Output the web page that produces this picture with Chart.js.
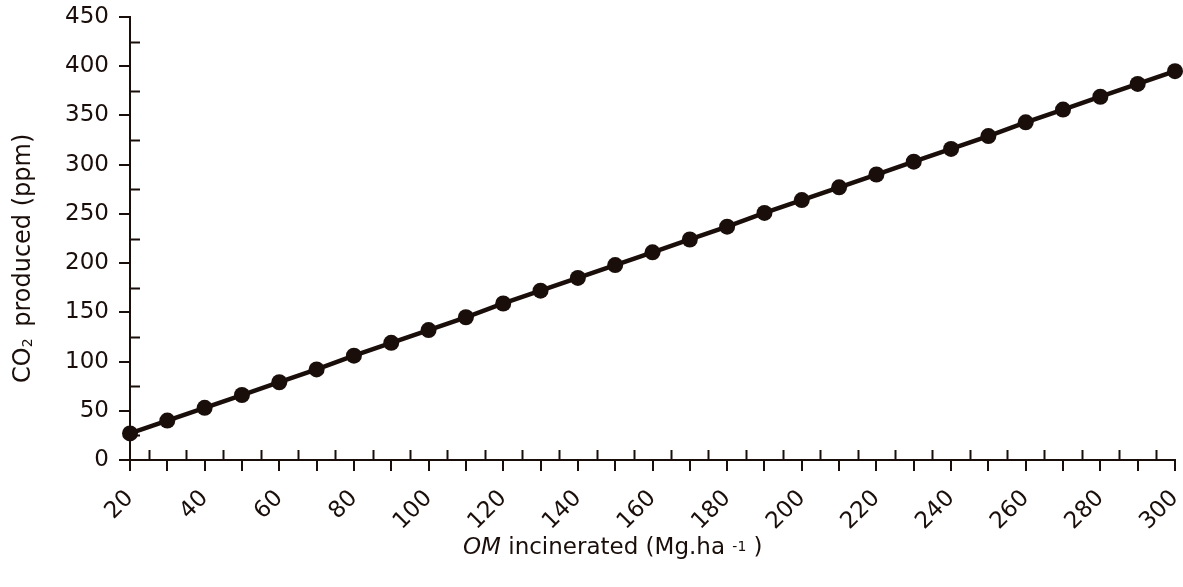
<!DOCTYPE html>
<html>
<head>
<meta charset="utf-8">
<script src="https://cdn.jsdelivr.net/npm/chart.js@4"></script>
<style>
    html, body { margin: 0; padding: 0; background: #fff; }
    #wrap { position: relative; width: 1183px; height: 587px; }
</style>
</head>
<body>
<div id="wrap"><canvas id="co2-chart"></canvas></div>
<script>
const omIncinerated = [20, 30, 40, 50, 60, 70, 80, 90, 100, 110, 120, 130, 140, 150, 160, 170, 180, 190, 200, 210, 220, 230, 240, 250, 260, 270, 280, 290, 300];
const co2Produced = [27, 40, 53, 66, 79, 92, 106, 119, 132, 145, 159, 172, 185, 198, 211, 224, 237, 251, 264, 277, 290, 303, 316, 329, 343, 356, 369, 382, 395];
const yTicks = [0, 50, 100, 150, 200, 250, 300, 350, 400, 450];
const yMinorTicks = [25, 75, 125, 175, 225, 275, 325, 375, 425];
const xMinorTicks = [25, 35, 45, 55, 65, 75, 85, 95, 105, 115, 125, 135, 145, 155, 165, 175, 185, 195, 205, 215, 225, 235, 245, 255, 265, 275, 285, 295];

const ink = '#1a0e0a';
const fontFamily = '"DejaVu Sans", Verdana, sans-serif';

// inward minor ticks + axis titles with italic / sub / superscript parts
const extras = {
    id: 'extras',
    afterDraw: (chart) => {
        const { ctx, chartArea } = chart
        const x = chart.scales.x
        const y = chart.scales.y
        ctx.save()
        ctx.strokeStyle = ink
        ctx.lineWidth = 2
        ctx.beginPath()
        yMinorTicks.forEach(v => {
            const py = Math.round(y.getPixelForValue(v)) + 0.5
            ctx.moveTo(chartArea.left, py)
            ctx.lineTo(chartArea.left + 10, py)
        })
        xMinorTicks.forEach(v => {
            const px = Math.round(x.getPixelForValue(v)) + 0.5
            ctx.moveTo(px, chartArea.bottom)
            ctx.lineTo(px, chartArea.bottom - 10)
        })
        ctx.stroke()

        ctx.fillStyle = ink
        ctx.textBaseline = 'alphabetic'
        ctx.textAlign = 'left'

        // x title
        let tx = 463
        const ty = 554
        const parts = [
            ['italic 23px ' + fontFamily, 'OM', 0],
            ['23px ' + fontFamily, ' incinerated (Mg.ha ', 0],
            ['14px ' + fontFamily, '-1', -3],
            ['23px ' + fontFamily, ' )', 0]
        ]
        parts.forEach(([f, t, dy]) => {
            ctx.font = f
            ctx.fillText(t, tx, ty + dy)
            tx += ctx.measureText(t).width
        })

        // y title
        ctx.translate(30, 383)
        ctx.rotate(-Math.PI / 2)
        let ry = 0
        const yparts = [
            ['24px ' + fontFamily, 'CO', 0],
            ['14px ' + fontFamily, '2', 2],
            ['24px ' + fontFamily, ' produced (ppm)', 0]
        ]
        yparts.forEach(([f, t, dy]) => {
            ctx.font = f
            ctx.fillText(t, ry, dy)
            ry += ctx.measureText(t).width + (t === '2' ? 4 : 0)
        })
        ctx.restore()
    }
}

new Chart(document.getElementById('co2-chart'), {
    type: 'line',
    data: {
        datasets: [
            {
                data: omIncinerated.map((v, i) => ({ x: v, y: co2Produced[i] })),
                borderColor: ink,
                backgroundColor: ink,
                borderWidth: 4.5,
                pointRadius: 8,
                pointBackgroundColor: ink,
                pointBorderWidth: 0,
                tension: 0,
                clip: false
            }
        ]
    },
    options: {
        responsive: true,
        maintainAspectRatio: false,
        animation: false,
        layout: { padding: { top: 17, right: 6, left: 0, bottom: 0 } },
        plugins: {
            legend: { display: false },
            tooltip: { enabled: false }
        },
        scales: {
            x: {
                type: 'linear',
                min: 20,
                max: 300,
                afterFit: (scale) => {
                    scale.height = 127
                    scale.paddingLeft = 0
                    scale.paddingRight = 0
                },
                border: { color: ink, width: 2 },
                grid: { drawOnChartArea: false, drawTicks: true, tickLength: 11, color: ink, lineWidth: 2 },
                ticks: {
                    stepSize: 10,
                    autoSkip: false,
                    maxRotation: 45,
                    minRotation: 45,
                    padding: 14,
                    color: ink,
                    font: { family: fontFamily, size: 23 },
                    callback: (v) => (v % 20 === 0 ? String(v) : '')
                }
            },
            y: {
                min: 0,
                max: 450,
                afterFit: (scale) => {
                    scale.width = 130
                    scale.paddingTop = 0
                    scale.paddingBottom = 0
                },
                afterBuildTicks: (scale) => { scale.ticks = yTicks.map(v => ({ value: v })) },
                border: { color: ink, width: 2 },
                grid: { drawOnChartArea: false, drawTicks: true, tickLength: 11, color: ink, lineWidth: 2 },
                ticks: {
                    padding: 10,
                    color: ink,
                    font: { family: fontFamily, size: 23 }
                }
            }
        }
    },
    plugins: [extras]
})
</script>
</body>
</html>
